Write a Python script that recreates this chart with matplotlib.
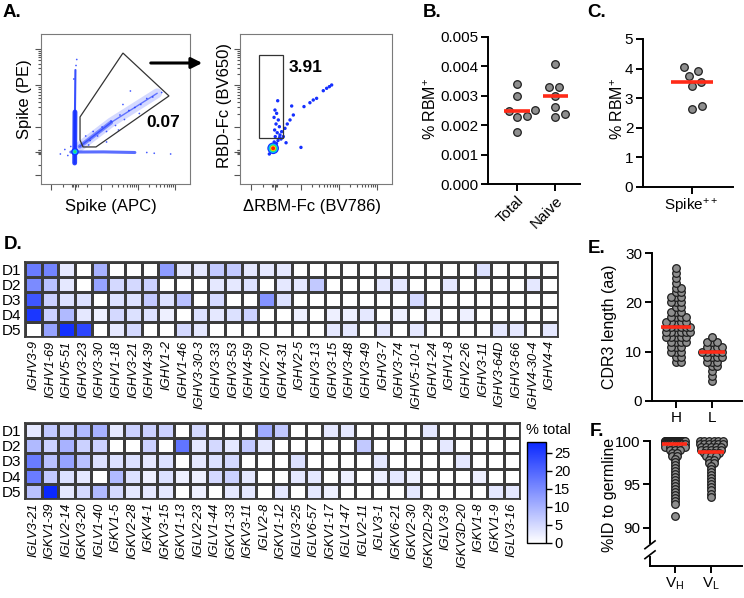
import numpy as np
import matplotlib
matplotlib.use('Agg')
import matplotlib.pyplot as plt
from matplotlib.colors import LinearSegmentedColormap
from matplotlib.patches import Polygon, Rectangle, FancyArrowPatch

plt.rcParams['font.family'] = ['Liberation Sans', 'DejaVu Sans']
plt.rcParams['mathtext.fontset'] = 'custom'
plt.rcParams['mathtext.rm'] = 'Liberation Sans'
plt.rcParams['mathtext.it'] = 'Liberation Sans:italic'
plt.rcParams['mathtext.bf'] = 'Liberation Sans:bold'

# ---------------- data ----------------
# A: flow plots, populations in axes fractions
f1_vert_x = [0.226, 0.228, 0.231]
f1_vert_y = [0.14, 0.48, 0.76]
f1_diag_x = [0.26, 0.47, 0.78]
f1_diag_y = [0.25, 0.41, 0.605]
f1_horiz_x = [0.20, 0.42, 0.63]
f1_horiz_y = [0.213, 0.214, 0.21]
f1_dots_x = [0.30, 0.33, 0.35, 0.38, 0.41, 0.44, 0.47, 0.50, 0.53, 0.56, 0.59, 0.63, 0.67,
             0.71, 0.75, 0.81, 0.60, 0.55, 0.66, 0.71, 0.76, 0.87, 0.235, 0.24, 0.22, 0.13,
             0.16, 0.18, 0.20, 0.32, 0.44, 0.52]
f1_dots_y = [0.32, 0.29, 0.35, 0.32, 0.38, 0.35, 0.42, 0.39, 0.46, 0.43, 0.49, 0.51, 0.53,
             0.57, 0.58, 0.61, 0.62, 0.53, 0.47, 0.21, 0.205, 0.20, 0.79, 0.83, 0.70, 0.20,
             0.23, 0.19, 0.25, 0.26, 0.28, 0.36]
f1_hot = (0.228, 0.215)
f1_gate_x = [0.262, 0.550, 0.859, 0.369, 0.282, 0.262]
f1_gate_y = [0.447, 0.873, 0.587, 0.247, 0.247, 0.293]
f1_freq = '0.07'

f2_dots_x = [0.603, 0.588, 0.570, 0.548, 0.504, 0.482, 0.460, 0.421, 0.340, 0.351, 0.329,
             0.311, 0.296, 0.401, 0.303, 0.248, 0.230, 0.241, 0.224, 0.252, 0.237, 0.259,
             0.228, 0.245, 0.263, 0.232, 0.274, 0.285, 0.193, 0.210, 0.225, 0.240, 0.250,
             0.205, 0.230, 0.260, 0.270]
f2_dots_y = [0.660, 0.649, 0.638, 0.622, 0.571, 0.560, 0.542, 0.516, 0.520, 0.460, 0.427,
             0.400, 0.371, 0.244, 0.275, 0.555, 0.493, 0.471, 0.444, 0.427, 0.400, 0.382,
             0.360, 0.342, 0.327, 0.316, 0.349, 0.316, 0.200, 0.260, 0.280, 0.270, 0.290,
             0.220, 0.220, 0.310, 0.300]
f2_hot = (0.218, 0.238)
f2_gate = (0.125, 0.307, 0.283, 0.860)   # x0, y0, x1, y1
f2_freq = '3.91'

# B / C: % RBM+ per donor
b_groups = ['Total', 'Naive']
b_total = [0.00340, 0.00298, 0.00252, 0.00249, 0.00230, 0.00228, 0.00177]
b_naive = [0.00409, 0.00329, 0.00329, 0.00298, 0.00262, 0.00238, 0.00228]
c_group = 'Spike$^\\mathregular{++}$'
c_spike = [4.07, 3.92, 3.75, 3.56, 3.41, 2.72, 2.63]

# D: gene usage (% total) per donor
donors = ['D1', 'D2', 'D3', 'D4', 'D5']
hv_genes = ['IGHV3-9', 'IGHV1-69', 'IGHV5-51', 'IGHV3-23', 'IGHV3-30', 'IGHV1-18', 'IGHV3-21',
            'IGHV4-39', 'IGHV1-2', 'IGHV1-46', 'IGHV3-30-3', 'IGHV3-33', 'IGHV3-53', 'IGHV4-59',
            'IGHV2-70', 'IGHV4-31', 'IGHV2-5', 'IGHV3-13', 'IGHV3-15', 'IGHV3-48', 'IGHV3-49',
            'IGHV3-7', 'IGHV3-74', 'IGHV5-10-1', 'IGHV1-24', 'IGHV1-8', 'IGHV2-26', 'IGHV3-11',
            'IGHV3-64D', 'IGHV3-66', 'IGHV4-30-4', 'IGHV4-4']
hv_d1 = [17, 16, 3, 0, 10, 0, 0, 0, 13, 3, 3, 7, 7, 3, 3, 3, 0, 0, 0, 0, 0, 0, 0, 0, 0, 0, 0, 4, 0, 0, 0, 0]
hv_d2 = [15, 8, 3, 0, 12, 5, 5, 6, 0, 0, 0, 3, 3, 4, 0, 3, 3, 7, 0, 0, 0, 3, 3, 0, 0, 3, 0, 0, 0, 0, 3, 0]
hv_d3 = [22, 6, 4, 4, 0, 4, 4, 7, 4, 8, 0, 5, 0, 0, 14, 4, 0, 0, 0, 0, 0, 0, 0, 5, 0, 0, 0, 0, 0, 0, 0, 0]
hv_d4 = [26, 6, 9, 3, 2, 5, 4, 4, 2, 0, 4, 3, 4, 6, 0, 0, 2, 0, 2, 2, 3, 0, 2, 0, 2, 0, 2, 0, 0, 0, 0, 0]
hv_d5 = [0, 12, 27, 24, 0, 3, 5, 0, 0, 5, 3, 0, 0, 0, 0, 0, 0, 0, 3, 3, 0, 3, 0, 3, 0, 0, 0, 0, 3, 3, 0, 3]

lv_genes = ['IGLV3-21', 'IGKV1-39', 'IGLV2-14', 'IGKV3-20', 'IGLV1-40', 'IGKV1-5', 'IGKV2-28',
            'IGKV4-1', 'IGKV3-15', 'IGKV1-13', 'IGLV2-23', 'IGLV1-44', 'IGKV1-33', 'IGKV3-11',
            'IGLV2-8', 'IGKV1-12', 'IGLV3-25', 'IGLV6-57', 'IGKV1-17', 'IGLV1-47', 'IGLV2-11',
            'IGLV3-1', 'IGKV6-21', 'IGKV2-30', 'IGKV2D-29', 'IGLV3-9', 'IGKV3D-20', 'IGKV1-8',
            'IGKV1-9', 'IGLV3-16']
lv_d1 = [3, 7, 6, 9, 10, 3, 6, 6, 6, 0, 5, 0, 0, 0, 11, 7, 0, 0, 3, 3, 0, 0, 0, 0, 3, 0, 0, 0, 0, 0]
lv_d2 = [9, 6, 10, 6, 6, 0, 0, 6, 0, 18, 3, 5, 3, 7, 3, 0, 0, 0, 0, 0, 7, 0, 0, 0, 0, 3, 0, 0, 0, 0]
lv_d3 = [17, 8, 12, 8, 4, 4, 4, 3, 4, 0, 3, 4, 5, 0, 0, 0, 4, 0, 0, 0, 0, 3, 0, 0, 0, 0, 3, 0, 0, 0]
lv_d4 = [17, 7, 4, 3, 0, 9, 4, 2, 4, 2, 2, 5, 6, 3, 0, 0, 3, 3, 0, 2, 0, 2, 3, 2, 0, 0, 0, 2, 0, 0]
lv_d5 = [8, 28, 3, 5, 9, 5, 3, 3, 3, 0, 2, 0, 3, 3, 0, 3, 0, 3, 2, 0, 0, 0, 0, 3, 0, 0, 0, 0, 3, 3]

# E: CDR3 length (aa) -> number of sequences
h_cdr3_len = [8, 9, 10, 11, 12, 13, 14, 15, 16, 17, 18, 19, 20, 21, 22, 23, 24, 25, 26, 27]
h_cdr3_n = [2, 2, 3, 3, 4, 5, 6, 6, 5, 4, 3, 2, 3, 3, 2, 2, 1, 1, 1, 1]
l_cdr3_len = [4, 5, 6, 7, 8, 9, 10, 11, 12, 13]
l_cdr3_n = [1, 1, 1, 2, 3, 4, 5, 4, 3, 1]

# F: % identity to germline -> number of sequences
vh_id = [100, 99.65, 99.31, 98.96, 98.62, 98.28, 97.93, 97.59, 97.24, 96.90, 96.55, 96.21,
         95.86, 95.52, 95.17, 94.83, 94.48, 94.14, 93.79, 93.45, 93.10, 92.76, 91.38]
vh_n = [22, 10, 5, 3, 2, 2, 1, 1, 1, 1, 1, 1, 1, 1, 1, 1, 1, 1, 1, 1, 1, 1, 1]
vl_id = [100, 99.64, 99.28, 98.93, 98.57, 98.21, 97.86, 97.50, 97.14, 96.79, 96.43, 96.07,
         95.71, 95.36, 95.00, 94.64, 94.29, 93.93, 93.57]
vl_n = [6, 6, 5, 5, 4, 3, 2, 2, 1, 1, 1, 1, 1, 1, 1, 1, 1, 1, 1]

# ---------------- helpers ----------------
W, H = 744, 598
fig = plt.figure(figsize=(W / 100, H / 100), dpi=100)


def box(l, t, r, b):
    return [l / W, 1 - b / H, (r - l) / W, (b - t) / H]


def label(x, y, s):
    fig.text(x / W, 1 - y / H, s, fontsize=13.5, fontweight='bold', ha='left', va='top')


def swarm(ypix, d):
    # greedy beeswarm: x offsets (px) so markers stay d px apart
    ypix = np.asarray(ypix, float)
    xs = np.zeros(len(ypix))
    done = []
    for i in np.argsort(ypix, kind='stable'):
        y = ypix[i]
        cand = [0.0]
        for j in done:
            dy = y - ypix[j]
            if abs(dy) < d:
                dx = np.sqrt(d * d - dy * dy)
                cand += [xs[j] + dx, xs[j] - dx]
        for c in sorted(cand, key=abs):
            if all((c - xs[j]) ** 2 + (y - ypix[j]) ** 2 >= d * d - 1e-6 for j in done):
                xs[i] = c
                break
        done.append(i)
    return xs


def spread_rows(vals, sp, maxw):
    vals = np.asarray(vals, float)
    xs = np.zeros(len(vals))
    for v in np.unique(vals):
        idx = np.where(vals == v)[0]
        w = min((len(idx) - 1) * sp, maxw)
        xs[idx] = np.linspace(-w / 2, w / 2, len(idx))
    return xs


def dot_column(ax, x, vals, half, d=7.5, rows=None):
    bb = ax.get_window_extent()
    x0, x1 = ax.get_xlim()
    y0, y1 = ax.get_ylim()
    sx, sy = bb.width / (x1 - x0), bb.height / (y1 - y0)
    vals = np.asarray(vals, float)
    if rows is None:
        off = swarm(vals * sy, d)
    else:
        off = spread_rows(vals, *rows)
    ax.scatter(x + off / sx, vals, s=30, c='#8e8e8e', edgecolors='#1e1e1e',
               linewidths=0.9, zorder=3, clip_on=False)
    ax.plot([x - half, x + half], [np.median(vals)] * 2, color='#ff2a17', lw=2.6,
            zorder=4, solid_capstyle='butt', clip_on=False)


def prism(ax):
    for s in ['top', 'right']:
        ax.spines[s].set_visible(False)
    for s in ['left', 'bottom']:
        ax.spines[s].set_linewidth(1.4)
    ax.tick_params(width=1.4, length=5, labelsize=11, pad=2)


def flow_axes(ax):
    ax.set_xlim(0, 1)
    ax.set_ylim(0, 1)
    for s in ax.spines.values():
        s.set_color('#7a7a7a')
        s.set_linewidth(0.8)
    ymaj = [0.06, 0.215, 0.38, 0.657, 0.90]
    xmaj = [0.07, 0.228, 0.40, 0.65, 0.90]
    ymin = [a + (b - a) * np.log10(k) for a, b in [(0.38, 0.657), (0.657, 0.90)] for k in range(2, 10)]
    xmin = [a + (b - a) * np.log10(k) for a, b in [(0.40, 0.65), (0.65, 0.90)] for k in range(2, 10)]
    ax.set_yticks(ymaj)
    ax.set_yticks(ymin + [0.20, 0.205, 0.225, 0.23, 0.13, 0.30], minor=True)
    ax.set_xticks(xmaj)
    ax.set_xticks(xmin + [0.21, 0.218, 0.238, 0.245, 0.15, 0.31], minor=True)
    ax.tick_params(which='both', labelleft=False, labelbottom=False, color='#555', width=0.8)
    ax.tick_params(which='major', length=4)
    ax.tick_params(which='minor', length=2.5)


def hotspot(ax, xy, colors, sizes):
    for c, s in zip(colors, sizes):
        ax.scatter([xy[0]], [xy[1]], s=s, c=c, edgecolors='none', zorder=4)


# ---------------- A ----------------
label(3, 4, 'A.')
blue = '#1530ff'
ax1 = fig.add_axes(box(41, 34, 190, 184))
flow_axes(ax1)
ax1.plot(f1_vert_x, f1_vert_y, color=blue, lw=1.5, alpha=0.85, solid_capstyle='round')
ax1.plot(f1_vert_x[:2], f1_vert_y[:2], color=blue, lw=3.5, alpha=0.9, solid_capstyle='round')
ax1.plot(f1_diag_x, f1_diag_y, color=blue, lw=7, alpha=0.18, solid_capstyle='round')
ax1.plot(f1_diag_x[:2], f1_diag_y[:2], color=blue, lw=3, alpha=0.5, solid_capstyle='round')
ax1.plot(f1_diag_x, f1_diag_y, color=blue, lw=1.0, alpha=0.6, solid_capstyle='round')
ax1.plot(f1_horiz_x, f1_horiz_y, color=blue, lw=2.2, alpha=0.7, solid_capstyle='round')
ax1.scatter(f1_dots_x, f1_dots_y, s=1.5, c=blue, edgecolors='none', alpha=0.8)
hotspot(ax1, f1_hot, [blue, '#00c8ff', '#30e070'], [30, 12, 4])
ax1.add_patch(Polygon(np.column_stack([f1_gate_x, f1_gate_y]), closed=True, fill=False,
                      ec='#333333', lw=0.9, zorder=5))
ax1.text(0.82, 0.41, f1_freq, fontsize=12.5, fontweight='bold', ha='center', va='center')
ax1.text(-0.114, 0.567, 'Spike (PE)', rotation=90, fontsize=12, ha='center', va='center',
         transform=ax1.transAxes)
ax1.text(0.47, -0.15, 'Spike (APC)', fontsize=12, ha='center', va='center',
         transform=ax1.transAxes)

ax2 = fig.add_axes(box(240, 34, 392, 184))
flow_axes(ax2)
ax2.scatter(f2_dots_x, f2_dots_y, s=6, c=blue, edgecolors='none', zorder=3)
hotspot(ax2, f2_hot, [blue, '#00c8ff', '#30e070', '#ffe000', '#ff2000'], [70, 45, 28, 16, 8])
ax2.add_patch(Rectangle((f2_gate[0], f2_gate[1]), f2_gate[2] - f2_gate[0], f2_gate[3] - f2_gate[1],
                        fill=False, ec='#333333', lw=0.9, zorder=5))
ax2.text(0.43, 0.78, f2_freq, fontsize=12.5, fontweight='bold', ha='center', va='center')
ax2.text(-0.10, 0.52, 'RBD-Fc (BV650)', rotation=90, fontsize=12, ha='center', va='center',
         transform=ax2.transAxes)
ax2.text(0.474, -0.15, '\u0394RBM-Fc (BV786)', fontsize=12, ha='center', va='center',
         transform=ax2.transAxes)
fig.add_artist(FancyArrowPatch((148 / W, 1 - 63 / H), (205 / W, 1 - 63 / H),
                               transform=fig.transFigure, arrowstyle='-|>',
                               mutation_scale=16, lw=2.2, color='k'))

# ---------------- B ----------------
label(423, 4, 'B.')
axb = fig.add_axes(box(488, 37, 580, 184))
prism(axb)
axb.set_xlim(-0.76, 1.65)
axb.set_ylim(0, 0.005)
axb.set_yticks(np.arange(0, 0.0051, 0.001))
axb.set_yticklabels(['%.3f' % v for v in np.arange(0, 0.0051, 0.001)])
axb.set_xticks([0, 1])
axb.set_xticklabels(b_groups, rotation=45, ha='right', va='top', rotation_mode='anchor')
dot_column(axb, 0, b_total, 0.33, d=10)
dot_column(axb, 1, b_naive, 0.33, d=10)
axb.text(-0.62, 0.51, '% RBM$^\\mathregular{+}$', rotation=90, fontsize=11.5, ha='center',
         va='center', transform=axb.transAxes)

# ---------------- C ----------------
label(587, 4, 'C.')
axc = fig.add_axes(box(643, 39, 733, 187))
prism(axc)
axc.set_xlim(-0.97, 0.83)
axc.set_ylim(0, 5)
axc.set_yticks(range(6))
axc.set_xticks([0])
axc.set_xticklabels([c_group])
dot_column(axc, 0, c_spike, 0.42, d=10.5)
axc.text(-0.283, 0.53, '% RBM$^\\mathregular{+}$', rotation=90, fontsize=11.5, ha='center',
         va='center', transform=axc.transAxes)

# ---------------- D ----------------
label(4, 236, 'D.')
cmap = LinearSegmentedColormap.from_list('wb', ['#ffffff', '#0a28ff'])


def heat(ax, data, genes):
    m = ax.pcolormesh(np.array(data), cmap=cmap, vmin=0, vmax=28,
                      edgecolors='#3c3c3c', linewidth=0.9)
    ax.set_xlim(0, len(genes))
    ax.set_ylim(len(donors), 0)
    ax.set_xticks(np.arange(len(genes)) + 0.5)
    ax.set_xticklabels(genes, rotation=90, fontstyle='italic', fontsize=9.3)
    ax.set_yticks(np.arange(len(donors)) + 0.5)
    ax.set_yticklabels(donors, fontsize=11)
    ax.tick_params(length=0, pad=2.5)
    for s in ax.spines.values():
        s.set_color('#3c3c3c')
        s.set_linewidth(1.3)
    return m


axh = fig.add_axes(box(25, 262, 558, 337))
heat(axh, [hv_d1, hv_d2, hv_d3, hv_d4, hv_d5], hv_genes)
axl = fig.add_axes(box(25, 423, 520, 499))
mesh = heat(axl, [lv_d1, lv_d2, lv_d3, lv_d4, lv_d5], lv_genes)

cax = fig.add_axes(box(527, 442, 546, 543))
cb = fig.colorbar(mesh, cax=cax, ticks=[0, 5, 10, 15, 20, 25])
cb.outline.set_linewidth(1.0)
cax.tick_params(labelsize=10.5, length=4, width=1.0, pad=2)
fig.text(526 / W, 1 - 430 / H, '% total', fontsize=10.5, ha='left', va='center')

# ---------------- E ----------------
label(588, 240, 'E.')
axe = fig.add_axes(box(652, 253, 742, 401))
prism(axe)
axe.set_xlim(-0.667, 1.833)
axe.set_ylim(0, 30)
axe.set_yticks([0, 10, 20, 30])
axe.set_xticks([0, 1])
axe.set_xticklabels(['H', 'L'])
dot_column(axe, 0, np.repeat(h_cdr3_len, h_cdr3_n), 0.42, d=4.8)
dot_column(axe, 1, np.repeat(l_cdr3_len, l_cdr3_n), 0.36, d=4.8)
axe.text(-0.467, 0.5, 'CDR3 length (aa)', rotation=90, fontsize=11.5, ha='center',
         va='center', transform=axe.transAxes)

# ---------------- F ----------------
label(590, 423, 'F.')
axf = fig.add_axes(box(650, 441, 742, 566))
prism(axf)
axf.set_xlim(-0.667, 1.833)
axf.set_ylim(85.55, 100)
axf.set_yticks([90, 95, 100])
axf.set_xticks([0, 1])
axf.set_xticklabels(['V$_\\mathregular{H}$', 'V$_\\mathregular{L}$'])
axf.spines['left'].set_bounds(88.25, 100)
yx = axf.get_yaxis_transform()
axf.plot([0, 0], [85.55, 86.6], color='k', lw=1.4, transform=yx, clip_on=False)
for yc in [88.0, 86.85]:
    axf.plot([-0.055, 0.055], [yc - 0.45, yc + 0.45], color='k', lw=1.2,
             transform=yx, clip_on=False)
dot_column(axf, 0, np.repeat(vh_id, vh_n), 0.35, rows=(5.0, 20))
dot_column(axf, 1, np.repeat(vl_id, vl_n), 0.35, rows=(5.0, 23))
axf.text(-0.435, 0.57, '%ID to germline', rotation=90, fontsize=11.5, ha='center',
         va='center', transform=axf.transAxes)

fig.savefig('out.png', dpi=100)
